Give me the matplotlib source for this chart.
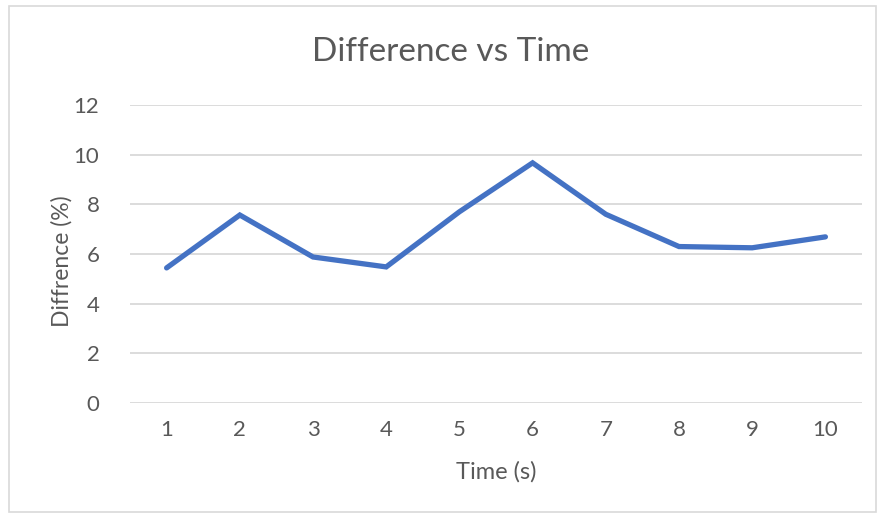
import matplotlib.pyplot as plt
from matplotlib.patches import Rectangle

plt.rcParams['font.family'] = ['Lato', 'DejaVu Sans']

tiempo = [1, 2, 3, 4, 5, 6, 7, 8, 9, 10]
diferencia = [5.44, 7.57, 5.88, 5.48, 7.7, 9.67, 7.6, 6.3, 6.25, 6.69]
marcas_y = [0, 2, 4, 6, 8, 10, 12]

gris = '#595959'

fig = plt.figure(figsize=(8.81, 5.15), dpi=100)
ax = fig.add_axes([130/881, 112/515, 732/881, 298/515])

ax.plot(tiempo, diferencia, color='#4472C4', linewidth=3.8, solid_joinstyle='miter',
        solid_capstyle='round', zorder=3)

ax.set_xlim(0.5, 10.5)
ax.set_ylim(0, 12)
ax.set_xticks(tiempo)
ax.set_yticks(marcas_y)
ax.grid(axis='y', color='#D9D9D9', linewidth=1.3)
ax.set_axisbelow(True)
for lado in ['top', 'right', 'left', 'bottom']:
    ax.spines[lado].set_visible(False)
ax.tick_params(length=0, labelsize=16, labelcolor=gris)
ax.tick_params(axis='y', pad=22)
ax.tick_params(axis='x', pad=12)

fig.text(451/881, 1 - 52/515, 'Difference vs Time', fontsize=24, color=gris,
         ha='center', va='center')
ax.set_xlabel('Time (s)', fontsize=17, color=gris, va='center')
ax.set_ylabel('Diffrence (%)', fontsize=16.5, color=gris, va='center')
ax.xaxis.set_label_coords(0.5, -0.232)
ax.yaxis.set_label_coords(-0.093, 0.475)

# borde del área del gráfico
fig.patches.append(Rectangle((9/881, 3/515), 867/881, 506/515, transform=fig.transFigure,
                             fill=False, edgecolor='#D9D9D9', linewidth=1.2))

fig.savefig('out.png', dpi=100)
